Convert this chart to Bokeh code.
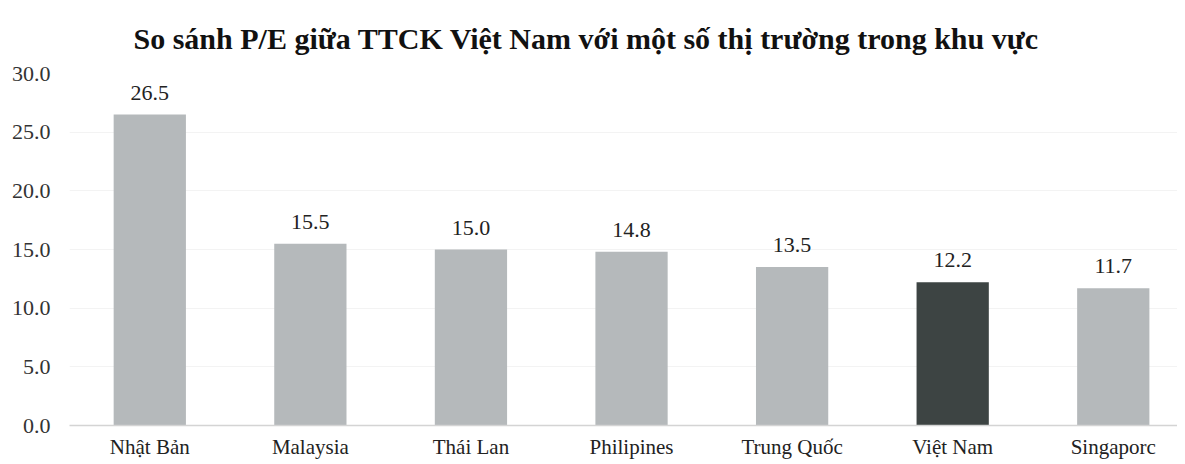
from bokeh.plotting import figure
from bokeh.models import ColumnDataSource, Range1d, FixedTicker, LabelSet, NumeralTickFormatter
from bokeh.embed import file_html
from bokeh.resources import INLINE

categories = ["Nhật Bản", "Malaysia", "Thái Lan", "Philipines", "Trung Quốc", "Việt Nam", "Singaporc"]
pe_values = [26.5, 15.5, 15.0, 14.8, 13.5, 12.2, 11.7]
bar_colors = ["#b5b9bb", "#b5b9bb", "#b5b9bb", "#b5b9bb", "#b5b9bb", "#3d4443", "#b5b9bb"]
y_ticks = [0, 5, 10, 15, 20, 25, 30]
title_text = "So sánh P/E giữa TTCK Việt Nam với một số thị trường trong khu vực"

idx = list(range(len(categories)))
src = ColumnDataSource(dict(x=idx, top=pe_values, color=bar_colors,
                            label=[f"{v:.1f}" for v in pe_values]))

p = figure(frame_width=1108, frame_height=352, output_backend="svg", toolbar_location=None,
           x_range=Range1d(-0.5, 6.4), y_range=Range1d(0, 30),
           min_border_left=69, min_border_right=0, min_border_top=73, min_border_bottom=36)

p.title.text = title_text
p.title.align = "left"
p.title.offset = 64
p.title.vertical_align = "middle"
p.title.text_font = "Liberation Serif"
p.title.text_font_size = "30px"
p.title.text_font_style = "bold"
p.title.text_color = "#111111"
p.title.standoff = 36

p.vbar(x="x", top="top", width=0.45, bottom=0, color="color", source=src, line_color=None)

labels = LabelSet(x="x", y="top", text="label", source=src, text_align="center",
                  text_baseline="bottom", y_offset=15, text_font="Liberation Serif",
                  text_font_size="22px", text_color="#222222")
p.add_layout(labels)

p.xaxis.ticker = FixedTicker(ticks=idx)
p.xaxis.major_label_overrides = {i: c for i, c in enumerate(categories)}
p.xaxis.major_label_text_font = "Liberation Serif"
p.xaxis.major_label_text_font_size = "21px"
p.xaxis.major_label_text_color = "#222222"
p.xaxis.major_tick_line_color = None
p.xaxis.major_tick_out = 0
p.xaxis.major_tick_in = 0
p.xaxis.minor_tick_line_color = None
p.xaxis.axis_line_color = "#d4d4d4"
p.xaxis.axis_line_width = 1.5
p.xaxis.major_label_standoff = 9

p.yaxis.ticker = FixedTicker(ticks=y_ticks)
p.yaxis.formatter = NumeralTickFormatter(format="0.0")
p.yaxis.major_label_text_font = "Liberation Serif"
p.yaxis.major_label_text_font_size = "22px"
p.yaxis.major_label_text_color = "#333333"
p.yaxis.major_tick_line_color = None
p.yaxis.major_tick_out = 0
p.yaxis.major_tick_in = 0
p.yaxis.minor_tick_line_color = None
p.yaxis.axis_line_color = None
p.yaxis.major_label_standoff = 19

p.xgrid.grid_line_color = None
p.ygrid.grid_line_color = "#f3f3f3"
p.outline_line_color = None

open("out.html", "w").write(file_html(p, INLINE))
